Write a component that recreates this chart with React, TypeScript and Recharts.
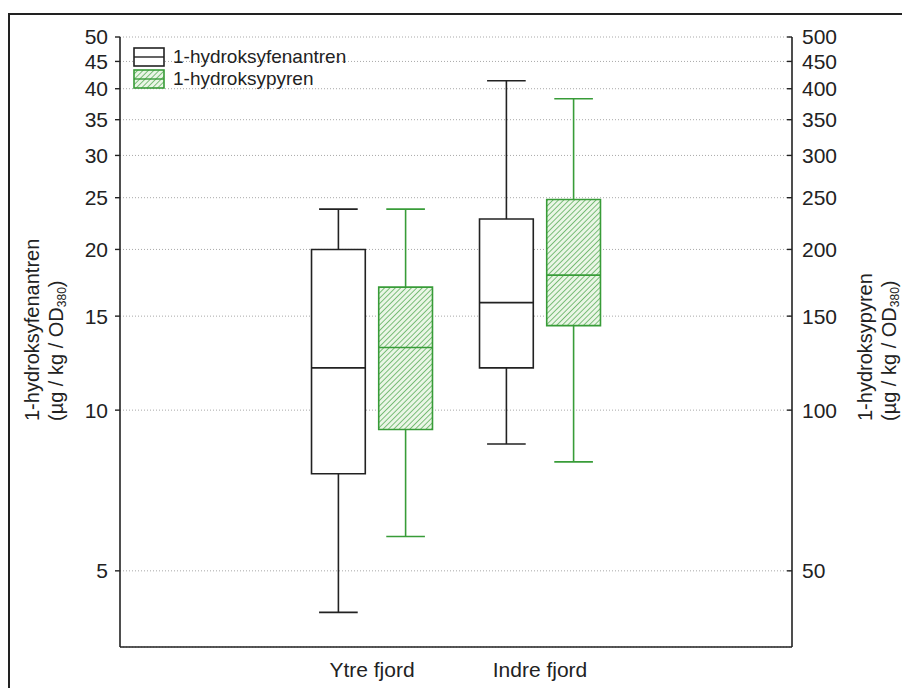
import { CartesianGrid, ComposedChart, Legend, ReferenceArea, ReferenceLine, XAxis, YAxis } from "recharts"

const categories = ["Ytre fjord", "Indre fjord"]
const seriesNames = ["1-hydroksyfenantren", "1-hydroksypyren"]

// 1-hydroksyfenantren (left axis)
const fenMin = [4.18, 8.64]
const fenQ1 = [7.6, 12.0]
const fenMedian = [12.0, 15.9]
const fenQ3 = [20.0, 22.8]
const fenMax = [23.8, 41.4]

// 1-hydroksypyren (right axis)
const pyrMin = [58, 80]
const pyrQ1 = [92, 144]
const pyrMedian = [131, 179]
const pyrQ3 = [170, 248]
const pyrMax = [238, 383]

const leftTicks = [5, 10, 15, 20, 25, 30, 35, 40, 45, 50]
const rightTicks = [50, 100, 150, 200, 250, 300, 350, 400, 450, 500]

const FONT = "'Liberation Sans', Arial, sans-serif"
const BLACK = "#222222"
const GREEN = "#389c38"

// category i sits at i + 1.5 on a 0..4 axis
const catPos = categories.map((_, i) => i + 1.5)
const DODGE = 0.2
const HALF_BOX = 0.16
const HALF_CAP = 0.115

type Stats = { min: number[]; q1: number[]; med: number[]; q3: number[]; max: number[] }

function boxes(id: string, s: Stats, side: number, axis: string, color: string, fill: string) {
  return catPos.flatMap((p, i) => {
    const c = p + side * DODGE
    return [
      <ReferenceLine key={`${id}-wl-${i}`} yAxisId={axis} stroke={color} strokeWidth={1.6}
        segment={[{ x: c, y: s.min[i] }, { x: c, y: s.q1[i] }]} />,
      <ReferenceLine key={`${id}-wh-${i}`} yAxisId={axis} stroke={color} strokeWidth={1.6}
        segment={[{ x: c, y: s.q3[i] }, { x: c, y: s.max[i] }]} />,
      <ReferenceLine key={`${id}-cl-${i}`} yAxisId={axis} stroke={color} strokeWidth={1.6}
        segment={[{ x: c - HALF_CAP, y: s.min[i] }, { x: c + HALF_CAP, y: s.min[i] }]} />,
      <ReferenceLine key={`${id}-ch-${i}`} yAxisId={axis} stroke={color} strokeWidth={1.6}
        segment={[{ x: c - HALF_CAP, y: s.max[i] }, { x: c + HALF_CAP, y: s.max[i] }]} />,
      <ReferenceArea key={`${id}-box-${i}`} yAxisId={axis} x1={c - HALF_BOX} x2={c + HALF_BOX}
        y1={s.q1[i]} y2={s.q3[i]} fill={fill} fillOpacity={1} stroke={color} strokeWidth={1.6} />,
      <ReferenceLine key={`${id}-med-${i}`} yAxisId={axis} stroke={color} strokeWidth={1.6}
        segment={[{ x: c - HALF_BOX, y: s.med[i] }, { x: c + HALF_BOX, y: s.med[i] }]} />,
    ]
  })
}

function AxisTitle({ viewBox, dx1, dx2, name }: any) {
  const x = viewBox?.x ?? 0
  return (
    <g fontFamily={FONT} fontSize={20} fill={BLACK}>
      <text transform={`translate(${x + dx1}, 421) rotate(-90)`} textAnchor="start">{name}</text>
      <text transform={`translate(${x + dx2}, 421) rotate(-90)`} textAnchor="start">
        (µg / kg / OD<tspan fontSize={12} dy={3}>380</tspan><tspan dy={-3}>)</tspan>
      </text>
    </g>
  )
}

function LegendContent() {
  return (
    <div style={{ fontFamily: FONT, fontSize: 19, color: BLACK }}>
      {seriesNames.map((name, i) => (
        <div key={name} style={{ display: "flex", alignItems: "center", height: 22 }}>
          <svg width={32} height={20} style={{ display: "block" }}>
            <rect x={1} y={1} width={30} height={18} fill={i === 0 ? "#fff" : "url(#hatch)"}
              stroke={i === 0 ? BLACK : GREEN} strokeWidth={1.6} />
            <line x1={1} x2={31} y1={10} y2={10} stroke={i === 0 ? BLACK : GREEN} strokeWidth={1.4} />
          </svg>
          <span style={{ marginLeft: 8 }}>{name}</span>
        </div>
      ))}
    </div>
  )
}

export default function App() {
  return (
    <div style={{ position: "absolute", left: 0, top: 0, width: 902, height: 688, background: "#fff", overflow: "hidden" }}>
      <div style={{ position: "absolute", left: 8, top: 13, width: 900, height: 680, borderLeft: `2px solid ${BLACK}`, borderTop: `2px solid ${BLACK}` }} />
      <ComposedChart width={902} height={688} margin={{ top: 37, right: 0, bottom: 0, left: 0 }} style={{ fontFamily: FONT }}>
        <defs>
          <pattern id="hatch" width={3.8} height={3.8} patternUnits="userSpaceOnUse" patternTransform="rotate(45)">
            <rect width={3.8} height={3.8} fill="#eaf6e6" />
            <line x1={0} y1={0} x2={0} y2={3.8} stroke="#3f9f3f" strokeWidth={1.3} />
          </pattern>
        </defs>
        <CartesianGrid yAxisId="left" vertical={false} stroke="#a8a8a8" strokeDasharray="1 2" />
        <XAxis type="number" dataKey="x" domain={[0, 4]} ticks={catPos} allowDataOverflow
          tickFormatter={(v) => categories[catPos.indexOf(v)] ?? ""}
          height={41} tickLine={false} tickSize={0} tickMargin={15}
          axisLine={{ stroke: BLACK, strokeWidth: 1.6 }}
          tick={{ fontSize: 21, fill: BLACK, fontFamily: FONT }} />
        <XAxis xAxisId="top" orientation="top" type="number" domain={[0, 4]} allowDataOverflow
          height={0} tick={false} tickLine={false} axisLine={{ stroke: BLACK, strokeWidth: 1.6 }} />
        <YAxis yAxisId="left" scale="log" type="number" domain={[3.6, 50]} allowDataOverflow
          ticks={leftTicks} interval={0} width={120} tickSize={5} tickMargin={7}
          tickLine={{ stroke: BLACK, strokeWidth: 1.4 }} axisLine={{ stroke: BLACK, strokeWidth: 1.6 }}
          tick={{ fontSize: 21, fill: BLACK, fontFamily: FONT }}
          label={<AxisTitle dx1={39} dx2={63} name={seriesNames[0]} />} />
        <YAxis yAxisId="right" orientation="right" scale="log" type="number" domain={[36, 500]} allowDataOverflow
          ticks={rightTicks} interval={0} width={110} tickSize={-5} tickMargin={15}
          tickLine={{ stroke: BLACK, strokeWidth: 1.4 }} axisLine={{ stroke: BLACK, strokeWidth: 1.6 }}
          tick={{ fontSize: 21, fill: BLACK, fontFamily: FONT }}
          label={<AxisTitle dx1={80} dx2={104} name={seriesNames[1]} />} />
        {boxes("fen", { min: fenMin, q1: fenQ1, med: fenMedian, q3: fenQ3, max: fenMax }, -1, "left", BLACK, "#ffffff")}
        {boxes("pyr", { min: pyrMin, q1: pyrQ1, med: pyrMedian, q3: pyrQ3, max: pyrMax }, 1, "right", GREEN, "url(#hatch)")}
        <Legend layout="vertical" align="center" verticalAlign="middle" content={() => <LegendContent />}
          wrapperStyle={{ left: 133, top: 46, width: "auto" }} />
      </ComposedChart>
    </div>
  )
}
